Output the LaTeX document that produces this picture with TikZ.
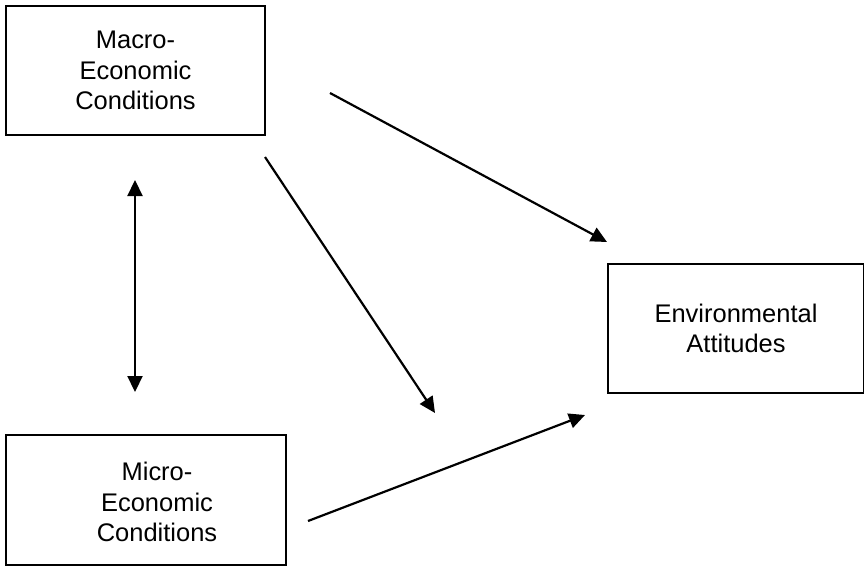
\documentclass[tikz,border=0pt]{standalone}
\usepackage{fontspec}
\setmainfont{Liberation Sans}
\usetikzlibrary{arrows.meta, positioning}

\begin{document}
\begin{tikzpicture}[
  x=0.02cm, y=-0.02cm,
  box/.style={draw, rectangle, align=center, line width=1.2pt, inner sep=0pt, font=\fontsize{14.5}{17.2}\selectfont},
  arrow/.style={-{Triangle[length=0.32cm, width=0.3cm]}, line width=1.25pt}
]
\clip (0,0) rectangle (864,565);

% Nodes
\node (macro) [box, minimum width=5.18cm, minimum height=2.58cm] at (135.5,70.5) {Macro-\\Economic\\Conditions};
\node (micro) [box, minimum width=5.6cm, minimum height=2.6cm] at (146,500) {};
\node (microtxt) [align=center, font=\fontsize{14.5}{17.2}\selectfont] at (157,502) {Micro-\\Economic\\Conditions};
\node (env) [box, minimum width=5.12cm, minimum height=2.58cm] at (736,328.5) {Environmental\\Attitudes};

% Arrow ends
\coordinate (a1s) at (330,93);
\coordinate (a1e) at (607,242);
\coordinate (a2s) at (265,157);
\coordinate (a2e) at (435,413);
\coordinate (a3s) at (308,521);
\coordinate (a3e) at (585,415);
\coordinate (ds) at (135,180);
\coordinate (de) at (135,392);

% Arrows
\draw [arrow] (a1s) -- (a1e);
\draw [arrow] (a2s) -- (a2e);
\draw [arrow] (a3s) -- (a3e);
\draw [arrow, {Triangle[length=0.32cm, width=0.3cm]}-{Triangle[length=0.32cm, width=0.3cm]}] (ds) -- (de);

\end{tikzpicture}
\end{document}
